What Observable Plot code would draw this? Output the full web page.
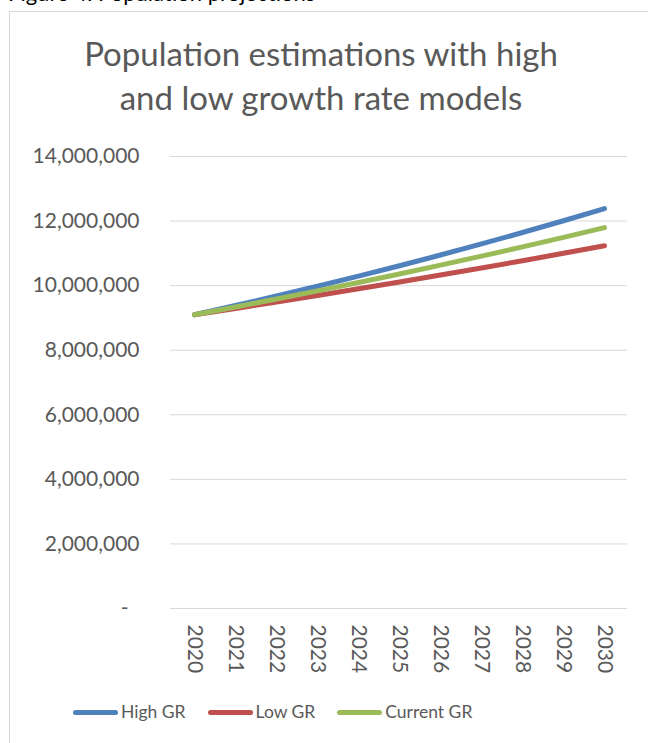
<!DOCTYPE html>
<html>
<head>
<meta charset="utf-8">
<script src="https://cdn.jsdelivr.net/npm/d3@7"></script>
<script src="https://cdn.jsdelivr.net/npm/@observablehq/plot@0.6"></script>
<style>
  html, body { margin: 0; padding: 0; background: #fff; }
  body { width: 648px; height: 743px; position: relative; overflow: hidden; font-family: Lato, "Open Sans", sans-serif; }
  #caption { position: absolute; left: 8px; top: -20px; font-size: 22px; line-height: 26px; color: #000; white-space: nowrap; }
  #frame { position: absolute; left: 9px; top: 11px; width: 700px; height: 800px; border: 1px solid #d9d9d9; box-sizing: border-box; background: #fff; }
  #chart { position: absolute; left: 0; top: 0; }
  #title { position: absolute; left: 0; width: 642px; top: 31px; text-align: center; font-size: 33px; line-height: 44px; color: #595959; z-index: 2; }
  #legend { position: absolute; top: 700px; left: 73px; display: flex; align-items: center; font-size: 17.5px; line-height: 24px; color: #595959; z-index: 2; }
  .item { display: flex; align-items: center; margin-right: 22px; }
  .sw { width: 45px; height: 5px; border-radius: 3px; margin-right: 3px; }
</style>
</head>
<body>
<div id="caption">Figure 4: Population projections</div>
<div id="frame"></div>
<div id="chart"></div>
<div id="title">Population estimations with high<br>and low growth rate models</div>
<div id="legend"></div>
<script>
const years = ["2020","2021","2022","2023","2024","2025","2026","2027","2028","2029","2030"];
const highGR = [9100000, 9385000, 9679000, 9982000, 10294000, 10617000, 10949000, 11292000, 11645000, 12010000, 12386000];
const lowGR = [9100000, 9294000, 9492000, 9694000, 9901000, 10112000, 10327000, 10547000, 10772000, 11001000, 11236000];
const currentGR = [9100000, 9339000, 9585000, 9837000, 10096000, 10361000, 10634000, 10913000, 11200000, 11495000, 11797000];
const seriesNames = ["High GR", "Low GR", "Current GR"];
const seriesColors = ["#4F81BD", "#C0504D", "#9BBB59"];
const yTicks = [0, 2000000, 4000000, 6000000, 8000000, 10000000, 12000000, 14000000];

const seriesValues = [highGR, lowGR, currentGR];
const data = [];
seriesNames.forEach((s, i) => years.forEach((y, j) => data.push({series: s, year: y, value: seriesValues[i][j]})));
const fmt = d3.format(",");

const chart = Plot.plot({
  width: 648,
  height: 690,
  marginTop: 156,
  marginBottom: 82,
  marginLeft: 170,
  marginRight: 21,
  style: {background: "transparent", fontFamily: "Lato, sans-serif", color: "#595959"},
  x: {type: "point", domain: years, padding: 0.5},
  y: {domain: [0, 14000000]},
  color: {domain: seriesNames, range: seriesColors},
  marks: [
    Plot.gridY(yTicks, {stroke: "#d9d9d9", strokeOpacity: 1, strokeWidth: 1}),
    Plot.axisY(yTicks.filter(d => d !== 0), {tickSize: 0, tickPadding: 31, fontSize: 21, tickFormat: fmt, label: null, fill: "#595959"}),
    Plot.axisY([0], {tickSize: 0, tickPadding: 42, fontSize: 21, tickFormat: () => "-", label: null, fill: "#595959"}),
    Plot.axisX({tickSize: 0, tickPadding: 16, fontSize: 21, tickRotate: 90, textAnchor: "start", label: null, fill: "#595959"}),
    Plot.line(data, {x: "year", y: "value", z: "series", stroke: "series", strokeWidth: 5, strokeLinecap: "round", strokeLinejoin: "round"})
  ]
});
document.getElementById("chart").appendChild(chart);

const legend = document.getElementById("legend");
seriesNames.forEach((s, i) => {
  const it = document.createElement("div");
  it.className = "item";
  const sw = document.createElement("span");
  sw.className = "sw";
  sw.style.background = seriesColors[i];
  const tx = document.createElement("span");
  tx.textContent = s;
  it.appendChild(sw); it.appendChild(tx);
  legend.appendChild(it);
});
</script>
</body>
</html>
